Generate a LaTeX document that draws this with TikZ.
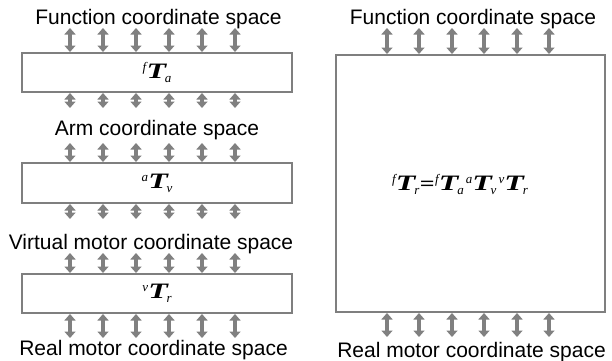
\documentclass[tikz,border=0pt]{standalone}
\usepackage{fontspec}
\usepackage{graphicx}
\setmainfont{Liberation Sans}
\newfontfamily\tms{Liberation Serif}
\usetikzlibrary{arrows.meta}
\definecolor{arrgray}{HTML}{808080}
\definecolor{boxgray}{HTML}{7F7F7F}
\newcommand\TT[2]{{\tms\raisebox{7pt}{\fontsize{13}{13}\selectfont\itshape #1}\kern0.2pt\scalebox{1.45}[1]{\fontsize{22}{22}\selectfont\bfseries\itshape T}\kern-1.2pt\raisebox{-4pt}{\fontsize{13}{13}\selectfont\itshape #2}}}
\newcommand\EQ{{\tms\scalebox{1.3}[1]{\fontsize{20}{20}\selectfont\bfseries =}}}
\begin{document}
\begin{tikzpicture}[x=1pt,y=-1pt,
  box/.style={draw=boxgray,line width=2pt,fill=white,inner sep=0pt},
  dbl/.style={draw=arrgray,line width=3.5pt,{Triangle[width=11pt,length=6.5pt]}-{Triangle[width=11pt,length=6.5pt]}},
  lbl/.style={anchor=base,inner sep=0pt,font=\fontsize{21}{24}\selectfont}]
\useasboundingbox (0,0) rectangle (612,360);
% left stack
\node[box,minimum width=270pt,minimum height=39pt] (b1) at (157,72.5) {\TT{f}{a}};
\node[box,minimum width=270pt,minimum height=40pt] (b2) at (157,183) {\TT{a}{v}};
\node[box,minimum width=270pt,minimum height=39pt] (b3) at (157,293.5) {\TT{v}{r}};
% right box
\node[box,minimum width=269pt,minimum height=257pt] (R) at (470.5,183.5) {};
\node[inner sep=0pt] (eq) at (460,184) {\TT{f}{r}\kern0.5pt\EQ\kern0.5pt\TT{f}{a}\kern2pt\TT{a}{v}\kern2pt\TT{v}{r}};
% labels
\node[lbl] (f1) at (158.5,24) {Function coordinate space};
\node[lbl] (a1) at (157,135) {Arm coordinate space};
\node[lbl] (v1) at (151,249) {Virtual motor coordinate space};
\node[lbl] (r1) at (153.5,355) {Real motor coordinate space};
\node[lbl] (f2) at (473,24) {Function coordinate space};
\node[lbl] (r2) at (471.5,357) {Real motor coordinate space};
% arrows
\foreach \x in {70,103,136,169,202,235}{
  \draw[dbl] (\x,28) -- (\x,0 |- b1.north);
  \draw[dbl] (\x,0 |- b1.south) -- (\x,108);
  \draw[dbl] (\x,143) -- (\x,0 |- b2.north);
  \draw[dbl] (\x,0 |- b2.south) -- (\x,219);
  \draw[dbl] (\x,253) -- (\x,0 |- b3.north);
  \draw[dbl] (\x,0 |- b3.south) -- (\x,338);
}
\foreach \x in {387,419,452,484,517,549}{
  \draw[dbl] (\x,28) -- (\x,0 |- R.north);
  \draw[dbl] (\x,0 |- R.south) -- (\x,337);
}
\end{tikzpicture}
\end{document}
